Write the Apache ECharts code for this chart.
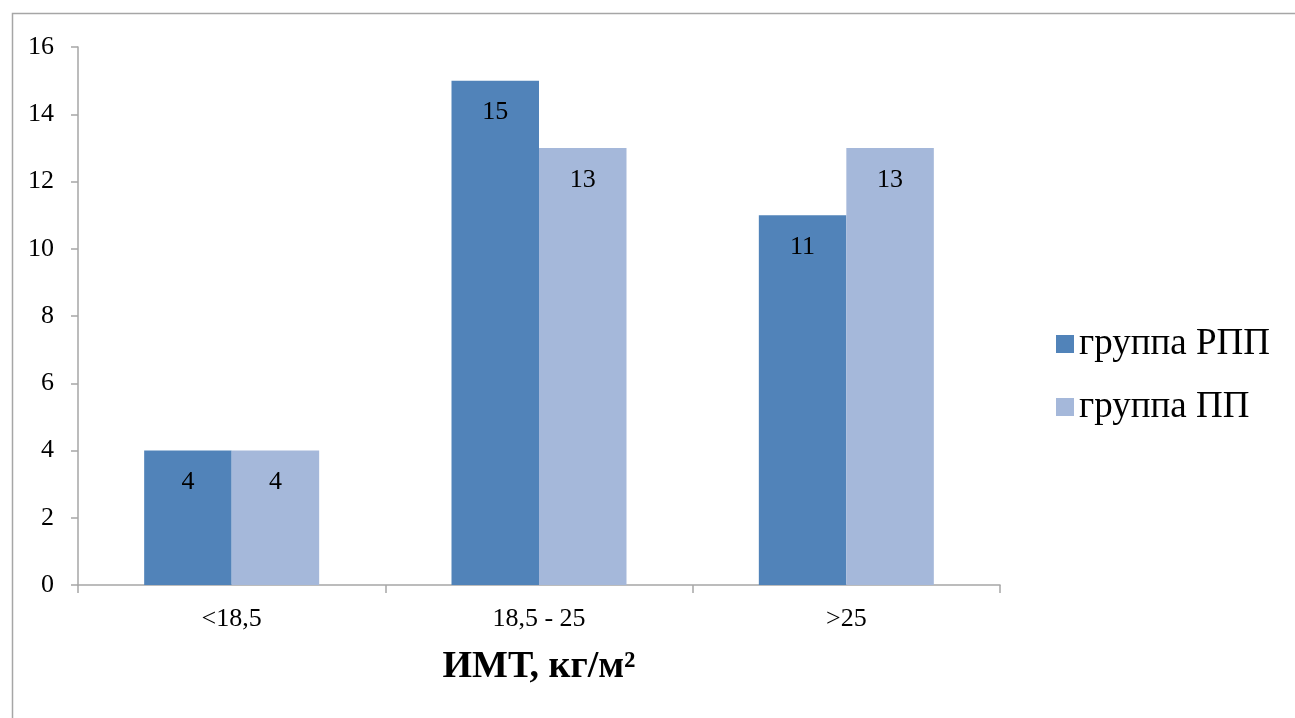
<!DOCTYPE html>
<html>
<head>
<meta charset="utf-8">
<script src="https://cdn.jsdelivr.net/npm/echarts@6/dist/echarts.min.js"></script>
<style>
html,body{margin:0;padding:0;background:#fff;}
#chart{width:1295px;height:718px;}
</style>
</head>
<body>
<div id="chart"></div>
<script>
const categories = ['<18,5', '18,5 - 25', '>25'];
const seriesNames = ['группа РПП', 'группа ПП'];
const rppValues = [4, 15, 11];
const ppValues = [4, 13, 13];
const yTicks = [0, 2, 4, 6, 8, 10, 12, 14, 16];
const axisTitle = 'ИМТ, кг/м²';

const FONT = 'Liberation Serif';
const chart = echarts.init(document.getElementById('chart'), null, {renderer: 'canvas'});
const labelCfg = {
  show: true, position: 'insideTop', distance: 19,
  color: '#000', fontFamily: FONT, fontSize: 26
};
chart.setOption({
  animation: false,
  backgroundColor: '#fff',
  graphic: [{
    type: 'rect', left: 10, top: 11,
    shape: {width: 1400, height: 800},
    style: {fill: 'none', stroke: '#a6a6a6', lineWidth: 1.5},
    silent: true
  }],
  grid: {left: 78, right: 295, top: 47, bottom: 133},
  legend: {
    orient: 'vertical', left: 1051, top: 319,
    itemWidth: 18, itemHeight: 18, itemGap: 23,
    icon: 'rect',
    data: seriesNames,
    textStyle: {fontFamily: FONT, fontSize: 37, color: '#000', lineHeight: 40}
  },
  xAxis: {
    type: 'category',
    data: categories,
    name: axisTitle,
    nameLocation: 'middle',
    nameGap: 63,
    nameTextStyle: {fontFamily: FONT, fontSize: 38, fontWeight: 'bold', color: '#000'},
    axisLine: {lineStyle: {color: '#a6a6a6', width: 1.5}},
    axisTick: {show: true, length: 8, alignWithLabel: false, lineStyle: {color: '#a6a6a6', width: 1.5}},
    axisLabel: {fontFamily: FONT, fontSize: 26, color: '#000', margin: 21}
  },
  yAxis: {
    type: 'value', min: 0, max: 16, interval: 2,
    axisLine: {show: true, lineStyle: {color: '#a6a6a6', width: 1.5}},
    axisTick: {show: true, length: 7, lineStyle: {color: '#a6a6a6', width: 1.5}},
    splitLine: {show: false},
    axisLabel: {
      fontFamily: FONT, fontSize: 26, color: '#000', margin: 24,
      formatter: v => yTicks.includes(v) ? String(v) : ''
    }
  },
  series: [
    {name: seriesNames[0], type: 'bar', data: rppValues, barWidth: 87.5, barGap: '0%',
     itemStyle: {color: '#5183b9'}, label: labelCfg},
    {name: seriesNames[1], type: 'bar', data: ppValues, barWidth: 87.5,
     itemStyle: {color: '#a5b8da'}, label: labelCfg}
  ]
});
</script>
</body>
</html>
